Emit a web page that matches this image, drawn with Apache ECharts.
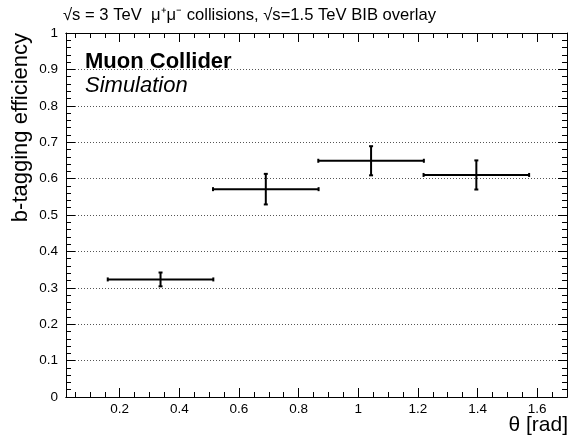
<!DOCTYPE html>
<html>
<head>
<meta charset="utf-8">
<script src="https://cdn.jsdelivr.net/npm/echarts@6/dist/echarts.min.js"></script>
<style>
html, body { margin: 0; padding: 0; background: #fff; }
#eff { width: 571px; height: 435px; }
</style>
</head>
<body>
<div id="eff"></div>
<script>
// theta bins (rad) and b-tag efficiency
var thetaCenter = [0.337, 0.690, 1.043, 1.396];
var thetaHalfWidth = [0.177, 0.177, 0.177, 0.177];
var effValue = [0.323, 0.571, 0.649, 0.610];
var effError = [0.019, 0.042, 0.040, 0.040];

var xTickLabels = [0.2, 0.4, 0.6, 0.8, 1, 1.2, 1.4, 1.6];
var xMinorTicks = [0.05, 0.1, 0.15, 0.25, 0.3, 0.35, 0.45, 0.5, 0.55, 0.65, 0.7, 0.75,
    0.85, 0.9, 0.95, 1.05, 1.1, 1.15, 1.25, 1.3, 1.35, 1.45, 1.5, 1.55, 1.65];

var FONT = '"Liberation Sans", Arial, sans-serif';
var chart = echarts.init(document.getElementById('eff'), null, { renderer: 'canvas' });

var errData = thetaCenter.map(function (x, i) {
    return [x, effValue[i], x - thetaHalfWidth[i], x + thetaHalfWidth[i],
        effValue[i] - effError[i], effValue[i] + effError[i]];
});

function xAx(pos, ticks, len, showLabel) {
    return {
        type: 'value', position: pos, min: 0.02, max: 1.70,
        axisLine: { show: true, onZero: false, lineStyle: { color: '#000', width: 1 } },
        axisTick: { show: true, inside: true, length: len, customValues: ticks, lineStyle: { color: '#000' } },
        axisLabel: showLabel ? { show: true, customValues: ticks, color: '#000', fontSize: 13.5, fontFamily: FONT, margin: 5 } : { show: false },
        splitLine: { show: false }
    };
}
function yAx(pos, main) {
    return {
        type: 'value', position: pos, min: 0, max: 1, interval: 0.1,
        axisLine: { show: true, onZero: false, lineStyle: { color: '#000', width: 1 } },
        axisTick: { show: true, inside: true, length: 9, lineStyle: { color: '#000' } },
        minorTick: { show: true, splitNumber: 5, length: 5, lineStyle: { color: '#000' } },
        axisLabel: main ? { show: true, color: '#000', fontSize: 13.5, fontFamily: FONT, margin: 8 } : { show: false },
        splitLine: main ? { show: true, lineStyle: { color: '#555', type: [1, 2], width: 1 } } : { show: false }
    };
}

var option = {
    backgroundColor: '#fff',
    animation: false,
    grid: { left: 66, right: 4, top: 33, bottom: 38 },
    xAxis: [
        xAx('bottom', xTickLabels, 9, true),
        xAx('bottom', xMinorTicks, 5, false),
        xAx('top', xTickLabels, 9, false),
        xAx('top', xMinorTicks, 5, false)
    ],
    yAxis: [yAx('left', true), yAx('right', false)],
    title: [
        { text: '√s = 3 TeV  μ⁺μ⁻ collisions, √s=1.5 TeV BIB overlay', left: 58, top: 2,
          textStyle: { fontSize: 16.6, fontWeight: 'normal', color: '#000', fontFamily: FONT } },
        { text: 'Muon Collider', left: 80, top: 46,
          textStyle: { fontSize: 22, fontWeight: 'bold', color: '#000', fontFamily: FONT } },
        { text: 'Simulation', left: 80, top: 70,
          textStyle: { fontSize: 22, fontWeight: 'normal', fontStyle: 'italic', color: '#000', fontFamily: FONT } }
    ],
    graphic: [
        { type: 'text', x: 21, y: 33, rotation: Math.PI / 2,
          style: { text: 'b-tagging efficiency', align: 'right', verticalAlign: 'middle', fontSize: 22, fontFamily: FONT, fill: '#000' } },
        { type: 'text', x: 568, y: 425,
          style: { text: 'θ [rad]', align: 'right', verticalAlign: 'middle', fontSize: 21, fontFamily: FONT, fill: '#000' } }
    ],
    series: [{
        type: 'custom',
        data: errData,
        encode: { x: [0, 2, 3], y: [1, 4, 5] },
        renderItem: function (params, api) {
            var c = api.coord([api.value(0), api.value(1)]);
            var l = api.coord([api.value(2), api.value(1)]);
            var r = api.coord([api.value(3), api.value(1)]);
            var lo = api.coord([api.value(0), api.value(4)]);
            var hi = api.coord([api.value(0), api.value(5)]);
            var st = { stroke: '#000', lineWidth: 2 };
            var cap = 2;
            return {
                type: 'group',
                children: [
                    { type: 'line', shape: { x1: l[0], y1: c[1], x2: r[0], y2: c[1] }, style: st },
                    { type: 'line', shape: { x1: c[0], y1: lo[1], x2: c[0], y2: hi[1] }, style: st },
                    { type: 'line', shape: { x1: l[0], y1: c[1] - cap, x2: l[0], y2: c[1] + cap }, style: st },
                    { type: 'line', shape: { x1: r[0], y1: c[1] - cap, x2: r[0], y2: c[1] + cap }, style: st },
                    { type: 'line', shape: { x1: c[0] - cap, y1: lo[1], x2: c[0] + cap, y2: lo[1] }, style: st },
                    { type: 'line', shape: { x1: c[0] - cap, y1: hi[1], x2: c[0] + cap, y2: hi[1] }, style: st }
                ]
            };
        }
    }]
};

chart.setOption(option);
</script>
</body>
</html>
